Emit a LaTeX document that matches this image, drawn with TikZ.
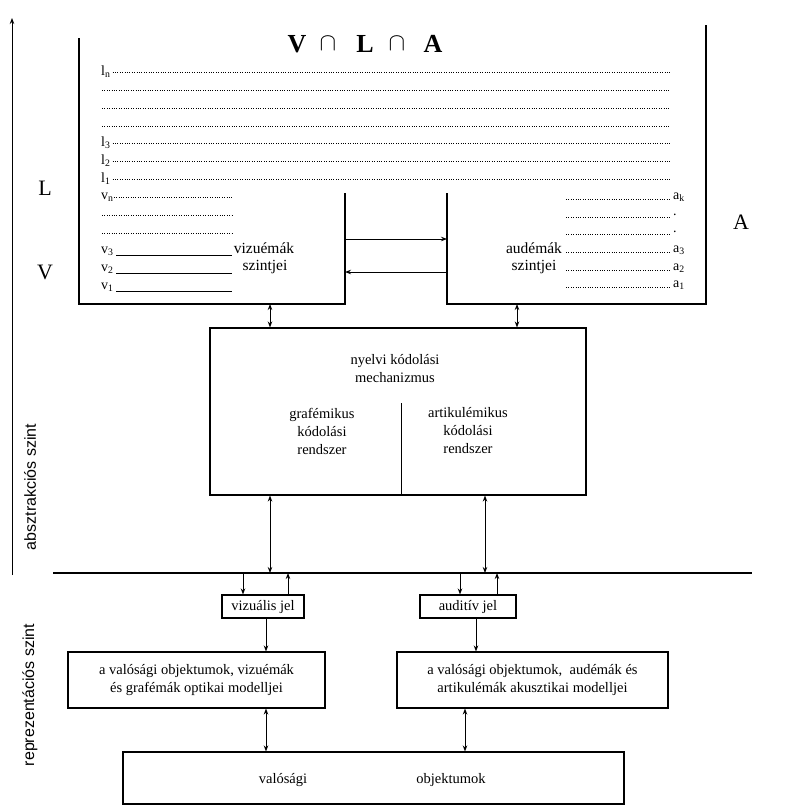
\documentclass[tikz,border=0pt]{standalone}
\usepackage{fontspec}
\setmainfont{Liberation Serif}
\newfontfamily\sansf{Liberation Sans}
\usetikzlibrary{arrows.meta}
\begin{document}
\begin{tikzpicture}[x=1pt,y=-1pt,
  box/.style={draw,line width=1.1pt,inner sep=0pt,align=center,font=\fontsize{14.5}{18}\selectfont},
  lbl/.style={font=\fontsize{14.5}{18}\selectfont,inner sep=0pt},
  tlbl/.style={font=\fontsize{15.5}{18}\selectfont,inner sep=0pt},
  sub/.style={font=\fontsize{14}{14}\selectfont,inner sep=0pt,anchor=west},
  big/.style={font=\fontsize{22}{24}\selectfont,inner sep=0pt},
  ttl/.style={font=\bfseries\fontsize{26}{28}\selectfont,inner sep=0pt},
  side/.style={font=\sansf\fontsize{16}{18}\selectfont,inner sep=0pt,rotate=90},
  frame/.style={line width=1.1pt},
  dotl/.style={line width=0.8pt,dash pattern=on 0.9pt off 1.5pt},
  solidl/.style={line width=0.9pt},
  arr/.style={-{Stealth[length=6pt,width=4.5pt]},line width=0.9pt},
  darr/.style={{Stealth[length=6pt,width=4.5pt]}-{Stealth[length=6pt,width=4.5pt]},line width=0.9pt},
]
\useasboundingbox (0,0) rectangle (794,806);

% left axis
\coordinate (axb) at (12,575);
\coordinate (axt) at (12,18);
\draw[arr] (axb) -- (axt);
\node[side] (abs) at (30,487) {absztrakciós szint};
\node[side] (rep) at (30,695) {reprezentációs szint};

% side letters
\node[big] (L) at (45,188) {L};
\node[big] (V) at (45,272) {V};
\node[big] (A) at (741,222) {A};

% top frame
\coordinate (f1) at (79,38);
\coordinate (f2) at (79,304);
\coordinate (f3) at (345,304);
\coordinate (f4) at (345,193);
\coordinate (f5) at (447,193);
\coordinate (f6) at (447,304);
\coordinate (f7) at (706,304);
\coordinate (f8) at (706,25);
\draw[frame] (f1) -- (f2) -- (f3) -- (f4);
\draw[frame] (f5) -- (f6) -- (f7) -- (f8);
\node[ttl] (t1) at (297,44) {V};
\node[ttl] (t2) at (328,44) {$\cap$};
\node[ttl] (t3) at (365,44) {L};
\node[ttl] (t4) at (397,44) {$\cap$};
\node[ttl] (t5) at (433,44) {A};

% l rows
\node[sub] (ln) at (101,72) {l\textsubscript{n}};
\node[sub] (l3) at (101,143) {l\textsubscript{3}};
\node[sub] (l2) at (101,161) {l\textsubscript{2}};
\node[sub] (l1) at (101,179) {l\textsubscript{1}};
\draw[dotl] (ln.east) ++(2,0) -- (670,72);
\draw[dotl] (102,90) -- (670,90);
\draw[dotl] (102,108) -- (670,108);
\draw[dotl] (102,126) -- (670,126);
\draw[dotl] (l3.east) ++(2,0) -- (670,143);
\draw[dotl] (l2.east) ++(2,0) -- (670,161);
\draw[dotl] (l1.east) ++(2,0) -- (670,179);

% v rows
\node[sub] (vn) at (101,197) {v\textsubscript{n}};
\node[sub] (v3) at (101,251) {v\textsubscript{3}};
\node[sub] (v2) at (101,269) {v\textsubscript{2}};
\node[sub] (v1) at (101,287) {v\textsubscript{1}};
\draw[dotl] (vn.east) -- (232,197);
\draw[dotl] (102,215) -- (232,215);
\draw[dotl] (102,233) -- (232,233);
\draw[solidl] (116,255) -- (232,255);
\draw[solidl] (116,273) -- (232,273);
\draw[solidl] (116,291) -- (232,291);
\node[tlbl] (viz) at (264,248) {vizuémák};
\node[tlbl] (vizsz) at (265,267) {szintjei};

% a rows
\node[sub] (ak) at (673,197) {a\textsubscript{k}};
\node[sub] (ad1) at (673,215) {.};
\node[sub] (ad2) at (673,232) {.};
\node[sub] (a3) at (673,250) {a\textsubscript{3}};
\node[sub] (a2) at (673,268) {a\textsubscript{2}};
\node[sub] (a1) at (673,285) {a\textsubscript{1}};
\foreach \yy in {199,217,234,252,270,287} \draw[dotl] (566,\yy) -- (671,\yy);
\node[tlbl] (aud) at (534,248) {audémák};
\node[tlbl] (audsz) at (534,267) {szintjei};

% arrows between halves
\coordinate (h1a) at (345,239); \coordinate (h1b) at (447,239);
\coordinate (h2a) at (345,272); \coordinate (h2b) at (447,272);
\draw[arr] (h1a) -- (h1b);
\draw[arr] (h2b) -- (h2a);

% mechanism box
\node[box,minimum width=376pt,minimum height=167pt] (mech) at (398,411.5) {};
\node[lbl,align=center] (mtitle) at (395,369) {nyelvi kódolási\\mechanizmus};
\coordinate (divt) at (401,403);
\draw[line width=0.9pt] (divt) -- (divt |- mech.south);
\node[lbl,align=center] (graf) at (322,431) {grafémikus\\kódolási\\rendszer};
\node[lbl,align=center] (art) at (468,431) {artikulémikus\\kódolási\\rendszer};

\coordinate (vb) at (270,304);
\coordinate (ab) at (517,304);
\draw[darr] (vb) -- (vb |- mech.north);
\draw[darr] (ab) -- (ab |- mech.north);

% separator
\coordinate (sepL) at (53,573);
\coordinate (sepR) at (752,573);
\draw[line width=1.5pt] (sepL) -- (sepR);
\coordinate (g1) at (270,573);
\coordinate (g2) at (485,573);
\draw[darr] (g1 |- mech.south) -- (g1);
\draw[darr] (g2 |- mech.south) -- (g2);

% signal boxes
\node[box,minimum width=82pt,minimum height=23pt] (vj) at (263,606.5) {vizuális jel};
\node[box,minimum width=96pt,minimum height=23pt] (aj) at (468,606.5) {auditív jel};
\coordinate (s1) at (243,573); \coordinate (s2) at (288,573);
\coordinate (s3) at (460,573); \coordinate (s4) at (497,573);
\draw[arr] (s1) -- (s1 |- vj.north);
\draw[arr] (s2 |- vj.north) -- (s2);
\draw[arr] (s3) -- (s3 |- aj.north);
\draw[arr] (s4 |- aj.north) -- (s4);

% model boxes
\node[box,minimum width=257pt,minimum height=56pt] (om) at (196.5,680) {a valósági objektumok, vizuémák\\és grafémák optikai modelljei};
\node[box,minimum width=271pt,minimum height=56pt] (am) at (532.5,680) {a valósági objektumok,\ \ audémák és\\artikulémák akusztikai modelljei};
\coordinate (m1) at (266,0); \coordinate (m2) at (476,0);
\draw[arr] (m1 |- vj.south) -- (m1 |- om.north);
\draw[arr] (m2 |- aj.south) -- (m2 |- am.north);

% bottom box
\node[box,minimum width=501pt,minimum height=52pt] (real) at (373.5,778) {};
\node[lbl] (rv) at (283,780) {valósági};
\node[lbl] (ro) at (451,780) {objektumok};
\coordinate (b1) at (266,0); \coordinate (b2) at (465,0);
\draw[darr] (b1 |- om.south) -- (b1 |- real.north);
\draw[darr] (b2 |- am.south) -- (b2 |- real.north);
\end{tikzpicture}
\end{document}
